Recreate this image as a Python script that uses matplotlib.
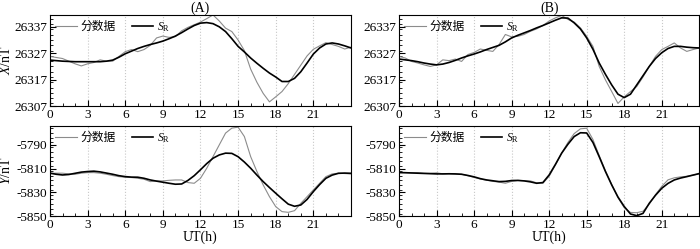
import numpy as np
import matplotlib
matplotlib.use("Agg")
import matplotlib.pyplot as plt
from matplotlib.ticker import MultipleLocator

plt.rcParams["font.family"] = ["Liberation Serif", "Noto Sans CJK SC"]
plt.rcParams["mathtext.fontset"] = "custom"
plt.rcParams["mathtext.it"] = "Liberation Serif:italic"
plt.rcParams["mathtext.rm"] = "Liberation Serif"
plt.rcParams["axes.unicode_minus"] = False

# time in hours, half-hour steps
ut = [0, 0.5, 1, 1.5, 2, 2.5, 3, 3.5, 4, 4.5, 5, 5.5, 6, 6.5, 7, 7.5, 8, 8.5,
      9, 9.5, 10, 10.5, 11, 11.5, 12, 12.5, 13, 13.5, 14, 14.5, 15, 15.5, 16,
      16.5, 17, 17.5, 18, 18.5, 19, 19.5, 20, 20.5, 21, 21.5, 22, 22.5, 23,
      23.5, 24]

# (A) X component
a_x_raw = [26325.8, 26325.4, 26325.0, 26324.0, 26323.0, 26322.2, 26323.0, 26323.5,
           26324.5, 26324.0, 26324.0, 26325.8, 26327.6, 26328.4, 26327.6, 26328.4,
           26330.0, 26332.8, 26333.5, 26333.0, 26333.3, 26335.5, 26336.8, 26337.8,
           26338.8, 26340.1, 26341.5, 26339.2, 26336.5, 26335.2, 26332.0, 26328.0,
           26321.0, 26316.0, 26311.8, 26308.6, 26310.5, 26312.5, 26315.5, 26319.0,
           26322.5, 26326.0, 26328.5, 26329.8, 26331.0, 26330.3, 26329.6, 26328.6,
           26329.3]
a_x_sr = [26324.4, 26324.2, 26324.0, 26323.9, 26323.8, 26323.8, 26323.8, 26323.8,
          26323.8, 26324.0, 26324.4, 26325.5, 26326.8, 26327.8, 26328.8, 26329.6,
          26330.3, 26330.9, 26331.6, 26332.5, 26333.5, 26334.8, 26336.2, 26337.5,
          26338.4, 26338.6, 26338.2, 26337.0, 26335.2, 26332.5, 26329.6, 26327.5,
          26325.2, 26323.2, 26321.3, 26319.5, 26318.0, 26316.3, 26316.3, 26317.5,
          26320.0, 26323.3, 26326.7, 26329.0, 26330.5, 26330.9, 26330.5, 26329.8,
          26329.0]

# (B) X component
b_x_raw = [26325.8, 26325.2, 26323.9, 26323.3, 26322.6, 26322.0, 26322.6, 26324.5,
           26324.2, 26324.8, 26323.9, 26326.5, 26327.3, 26328.6, 26328.1, 26327.7,
           26330.3, 26334.1, 26333.2, 26333.4, 26334.1, 26335.3, 26336.2, 26337.5,
           26339.2, 26340.4, 26341.3, 26339.8, 26338.8, 26336.6, 26333.4, 26329.6,
           26322.0, 26316.9, 26312.5, 26308.0, 26310.5, 26312.5, 26314.4, 26318.0,
           26322.0, 26325.8, 26328.4, 26329.6, 26330.9, 26329.0, 26327.7, 26328.4,
           26329.0]
b_x_sr = [26324.8, 26324.5, 26324.2, 26323.8, 26323.3, 26322.9, 26322.6, 26322.9,
          26323.5, 26324.3, 26325.2, 26326.0, 26326.7, 26327.5, 26328.4, 26329.2,
          26330.0, 26331.3, 26332.8, 26333.8, 26334.7, 26335.6, 26336.6, 26337.5,
          26338.5, 26339.5, 26340.4, 26340.3, 26338.5, 26336.2, 26332.8, 26328.5,
          26323.3, 26319.0, 26315.0, 26311.5, 26310.2, 26311.5, 26315.0, 26318.5,
          26322.0, 26325.0, 26327.2, 26328.8, 26329.6, 26329.6, 26329.3, 26329.1,
          26329.0]

# (A) Y component
a_y_raw = [-5813.9, -5813.9, -5813.9, -5814.5, -5814.8, -5813.9, -5813.4, -5813.4,
           -5813.9, -5814.8, -5815.9, -5816.8, -5817.3, -5817.6, -5818.2, -5819.0,
           -5821.0, -5820.4, -5820.4, -5819.9, -5819.6, -5819.6, -5821.8, -5822.4,
           -5818.2, -5809.7, -5799.9, -5790.0, -5780.1, -5775.9, -5775.1, -5783.0,
           -5799.9, -5812.5, -5823.8, -5833.7, -5842.1, -5846.3, -5846.9, -5845.5,
           -5839.3, -5833.7, -5828.0, -5822.4, -5816.8, -5814.5, -5813.9, -5814.2,
           -5814.5]
a_y_sr = [-5813.9, -5814.8, -5815.4, -5815.0, -5814.0, -5813.0, -5812.5, -5812.2,
          -5812.8, -5813.8, -5814.8, -5816.0, -5816.8, -5817.2, -5817.3, -5818.2,
          -5819.6, -5820.6, -5821.5, -5822.4, -5823.2, -5823.0, -5820.0, -5816.0,
          -5811.0, -5805.8, -5801.3, -5798.5, -5797.0, -5797.2, -5800.0, -5804.5,
          -5809.7, -5815.5, -5821.0, -5826.0, -5830.8, -5835.5, -5840.0, -5841.8,
          -5840.7, -5836.0, -5829.4, -5823.5, -5818.2, -5815.5, -5814.0, -5813.8,
          -5814.0]

# (B) Y component
b_y_raw = [-5813.2, -5813.4, -5813.6, -5813.5, -5814.0, -5814.0, -5813.6, -5814.4,
           -5814.3, -5814.6, -5814.8, -5816.0, -5817.4, -5818.8, -5819.8, -5820.8,
           -5821.4, -5822.4, -5820.8, -5820.0, -5820.2, -5820.4, -5822.0, -5822.4,
           -5816.5, -5807.0, -5797.0, -5788.0, -5780.5, -5776.5, -5776.0, -5785.5,
           -5799.0, -5812.0, -5823.5, -5834.5, -5843.0, -5847.0, -5847.2, -5846.0,
           -5840.0, -5832.0, -5825.0, -5819.5, -5817.8, -5817.0, -5816.5, -5815.5,
           -5814.5]
b_y_sr = [-5813.4, -5813.5, -5813.7, -5813.9, -5814.1, -5814.3, -5814.5, -5814.5,
          -5814.4, -5814.5, -5814.8, -5815.8, -5817.0, -5818.5, -5819.6, -5820.3,
          -5821.0, -5820.8, -5820.1, -5820.0, -5820.4, -5821.2, -5822.4, -5821.8,
          -5815.4, -5806.5, -5797.0, -5789.5, -5783.0, -5779.8, -5780.0, -5788.0,
          -5800.0, -5812.5, -5823.8, -5834.0, -5842.0, -5848.3, -5849.7, -5847.8,
          -5839.3, -5832.5, -5826.6, -5822.5, -5819.6, -5818.0, -5816.8, -5815.5,
          -5814.2]

x_ticks = [0, 3, 6, 9, 12, 15, 18, 21]
grid_hours = [3, 6, 9, 12, 15, 18, 21]
x_yticks = [26307, 26317, 26327, 26337]
y_yticks = [-5850, -5830, -5810, -5790]

fig = plt.figure(figsize=(7, 2.49), dpi=100)

panels = [
    ([0.0714, 0.574, 0.430, 0.366], a_x_raw, a_x_sr, x_yticks, (26307, 26341.5), "$X$/nT", "(A)", False),
    ([0.570, 0.574, 0.429, 0.366], b_x_raw, b_x_sr, x_yticks, (26307, 26341.5), None, "(B)", False),
    ([0.0714, 0.1325, 0.430, 0.362], a_y_raw, a_y_sr, y_yticks, (-5850, -5774), "$Y$/nT", None, True),
    ([0.570, 0.1325, 0.429, 0.362], b_y_raw, b_y_sr, y_yticks, (-5850, -5774), None, None, True),
]

for rect, raw, sr, yt, ylim, ylab, title, bottom in panels:
    ax = fig.add_axes(rect)
    for h in grid_hours:
        ax.axvline(h, color="#c8c8c8", linestyle=":", linewidth=0.8, zorder=0)
    ax.plot(ut, raw, color="#8c8c8c", linewidth=0.8, label="分数据")
    ax.plot(ut, sr, color="black", linewidth=1.2, label="$S_\\mathrm{R}$")
    ax.set_xlim(0, 24)
    ax.set_ylim(*ylim)
    ax.set_xticks(x_ticks)
    ax.set_yticks(yt)
    ax.xaxis.set_minor_locator(MultipleLocator(1))
    ax.yaxis.set_minor_locator(MultipleLocator((yt[1] - yt[0]) / 5))
    ax.tick_params(which="both", direction="in", top=False, right=False, labelsize=9.5, pad=2)
    ax.tick_params(which="major", length=4)
    ax.tick_params(which="minor", length=2)
    if ylab:
        ax.set_ylabel(ylab, fontsize=10)
        ax.yaxis.set_label_coords(-0.122, 0.5)
    if title:
        ax.set_title(title, fontsize=10, pad=2)
    if bottom:
        ax.set_xlabel("UT(h)", fontsize=10, labelpad=0)
    ax.legend(loc="upper left", ncol=2, frameon=False, fontsize=8.5,
              handlelength=1.8, handletextpad=0.3, columnspacing=1.4,
              borderaxespad=0.25, borderpad=0.2)

fig.savefig("out.png", dpi=100)
